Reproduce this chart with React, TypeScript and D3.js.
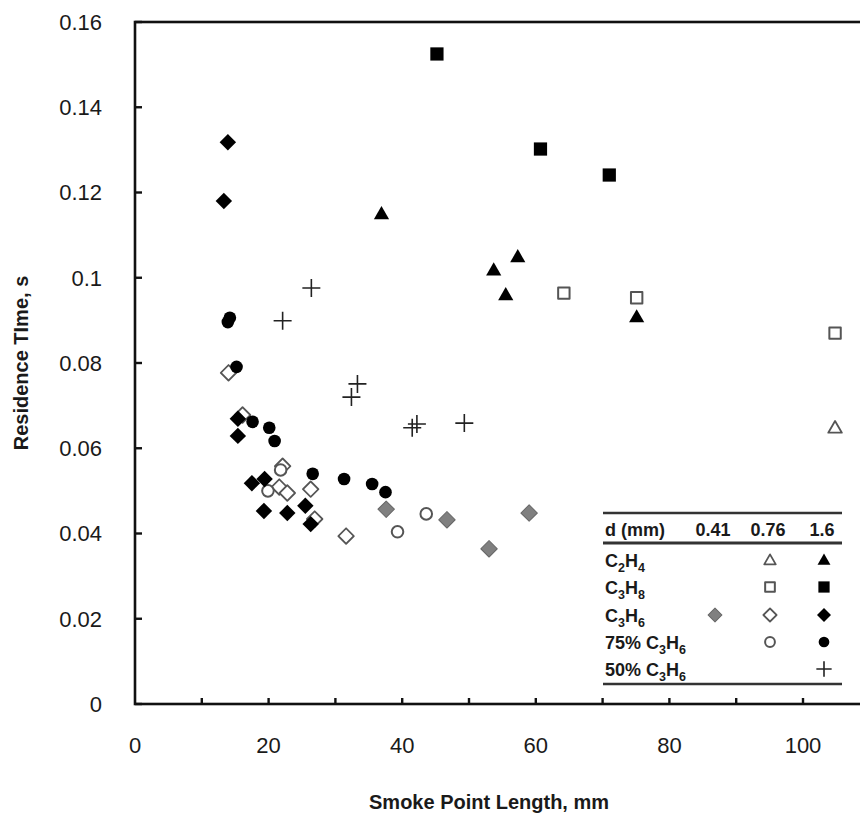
import * as d3 from "d3";

// tick values
const xTicks = [0, 20, 40, 60, 80, 100];
const xMinor = [10, 20, 30, 40, 50, 60, 70, 80, 90, 100];
const yTicks = [0, 0.02, 0.04, 0.06, 0.08, 0.1, 0.12, 0.14, 0.16];

// [smoke point length mm, residence time s]
const c2h4_076 = [[104.8, 0.0648]];
const c2h4_16 = [[36.9, 0.115], [53.7, 0.1018], [55.5, 0.096], [57.3, 0.1049], [75.1, 0.0908]];
const c3h8_076 = [[64.2, 0.0964], [75.1, 0.0953], [104.8, 0.087]];
const c3h8_16 = [[45.2, 0.1525], [60.7, 0.1302], [71.0, 0.1241]];
const c3h6_041 = [[37.6, 0.0457], [46.7, 0.0432], [53.0, 0.0364], [59.0, 0.0448]];
const c3h6_076 = [[14.0, 0.0777], [16.1, 0.0678], [22.1, 0.0558], [21.6, 0.0509], [22.8, 0.0495], [26.3, 0.0504], [26.9, 0.0434], [31.6, 0.0394]];
const c3h6_16 = [[13.9, 0.1318], [13.3, 0.118], [15.4, 0.0669], [15.4, 0.0629], [17.5, 0.0518], [19.4, 0.0528], [19.3, 0.0453], [22.8, 0.0448], [25.5, 0.0465], [26.3, 0.0422]];
const c3h6_75_076 = [[21.8, 0.0549], [19.9, 0.05], [39.3, 0.0404], [43.6, 0.0446]];
const c3h6_75_16 = [[13.9, 0.0896], [14.2, 0.0906], [15.2, 0.0791], [17.6, 0.0662], [20.1, 0.0648], [20.9, 0.0617], [26.6, 0.054], [31.3, 0.0528], [35.5, 0.0516], [37.5, 0.0497]];
const c3h6_50_16 = [[26.4, 0.0976], [22.1, 0.0899], [33.3, 0.0751], [32.4, 0.072], [41.5, 0.0648], [42.2, 0.0657], [49.3, 0.0659]];

const FONT = "'Liberation Sans', Arial, sans-serif";
const INK = "#1a1a1a";
const OPEN = "#555";

type Style = { kind: string; fill: string; stroke: string; sw: number; size: number };

const styles: Record<string, Style> = {
  triOpen: { kind: "tri", fill: "#fff", stroke: OPEN, sw: 1.8, size: 80 },
  triFill: { kind: "tri", fill: "#000", stroke: "none", sw: 0, size: 100 },
  sqOpen: { kind: "sq", fill: "#fff", stroke: OPEN, sw: 2, size: 130 },
  sqFill: { kind: "sq", fill: "#000", stroke: "none", sw: 0, size: 175 },
  diaGray: { kind: "dia", fill: "#808080", stroke: "#666", sw: 1, size: 135 },
  diaOpen: { kind: "dia", fill: "#fff", stroke: OPEN, sw: 1.8, size: 120 },
  diaFill: { kind: "dia", fill: "#000", stroke: "none", sw: 0, size: 135 },
  cirOpen: { kind: "cir", fill: "#fff", stroke: OPEN, sw: 2, size: 105 },
  cirFill: { kind: "cir", fill: "#000", stroke: "none", sw: 0, size: 125 },
  plus: { kind: "plus", fill: "none", stroke: "#222", sw: 1.6, size: 9 },
};

// draw order: grey, open, filled, plus
const series: [number[][], string][] = [
  [c3h6_041, "diaGray"],
  [c2h4_076, "triOpen"],
  [c3h8_076, "sqOpen"],
  [c3h6_076, "diaOpen"],
  [c3h6_75_076, "cirOpen"],
  [c2h4_16, "triFill"],
  [c3h8_16, "sqFill"],
  [c3h6_16, "diaFill"],
  [c3h6_75_16, "cirFill"],
  [c3h6_50_16, "plus"],
];

const Marker = ({ x, y, st, scale = 1 }: { x: number; y: number; st: Style; scale?: number }) => {
  if (st.kind === "plus") {
    const r = st.size * scale;
    return (
      <path d={`M${x - r},${y}H${x + r}M${x},${y - r}V${y + r}`} stroke={st.stroke} strokeWidth={st.sw} fill="none" />
    );
  }
  const type = st.kind === "tri" ? d3.symbolTriangle : st.kind === "cir" ? d3.symbolCircle : d3.symbolSquare;
  const d = d3.symbol().type(type).size(st.size * scale * scale)() as string;
  const rot = st.kind === "dia" ? " rotate(45)" : "";
  const dy = st.kind === "tri" ? 1 : 0;
  return (
    <path
      d={d}
      transform={`translate(${x},${y + dy})${rot}`}
      fill={st.fill}
      stroke={st.stroke}
      strokeWidth={st.sw}
      strokeLinejoin="round"
    />
  );
};

const Formula = ({ x, y, pre, c, h }: { x: number; y: number; pre?: string; c: string; h: string }) => (
  <text x={x} y={y} fontFamily={FONT} fontWeight="bold" fontSize={18} fill={INK}>
    {pre}C<tspan fontSize={12.5} dy={5}>{c}</tspan>
    <tspan dy={-5}>H</tspan>
    <tspan fontSize={12.5} dy={5}>{h}</tspan>
  </text>
);

const App = () => {
  const width = 860;
  const height = 817;
  const left = 135;
  const top = 22;
  const bottom = 704;

  const x = d3.scaleLinear().domain([0, 110]).range([left, left + 6.68 * 110]);
  const y = d3.scaleLinear().domain([0, 0.16]).range([bottom, top]);
  const right = x(110);

  // legend layout
  const lgL = 603;
  const lgR = 842;
  const colX = [715, 770, 824];
  const rowY = [560, 587, 615, 642, 669];

  return (
    <svg width={width} height={height} style={{ position: "absolute", left: 0, top: 0, background: "#fff" }}>
      <rect width={width} height={height} fill="#fff" />

      {/* frame */}
      <rect x={left} y={top} width={right - left} height={bottom - top} fill="none" stroke="#111" strokeWidth={2.6} />

      {/* x ticks */}
      {xMinor.map((t) => (
        <line key={t} x1={x(t)} x2={x(t)} y1={bottom} y2={bottom - 6} stroke="#111" strokeWidth={2.4} />
      ))}
      {xTicks.map((t) => (
        <text key={t} x={x(t)} y={bottom + 49} textAnchor="middle" fontFamily={FONT} fontSize={22} fill={INK}>
          {t}
        </text>
      ))}

      {/* y ticks */}
      {yTicks.map((t) => (
        <g key={t}>
          <line x1={left} x2={left + 7} y1={y(t)} y2={y(t)} stroke="#111" strokeWidth={2.4} />
          <text x={left - 33} y={y(t)} dy="0.36em" textAnchor="end" fontFamily={FONT} fontSize={22} fill={INK}>
            {t === 0 ? "0" : d3.format("")(+t.toFixed(2))}
          </text>
        </g>
      ))}

      {/* axis titles */}
      <text x={x(53)} y={809} textAnchor="middle" fontFamily={FONT} fontWeight="bold" fontSize={20} fill={INK}>
        Smoke Point Length, mm
      </text>
      <text
        transform={`translate(28,${(top + bottom) / 2}) rotate(-90)`}
        textAnchor="middle"
        fontFamily={FONT}
        fontWeight="bold"
        fontSize={20}
        fill={INK}
      >
        Residence TIme, s
      </text>

      {/* data */}
      {series.map(([pts, key], i) => (
        <g key={i}>
          {pts.map((p, j) => (
            <Marker key={j} x={x(p[0])} y={y(p[1])} st={styles[key]} />
          ))}
        </g>
      ))}

      {/* legend table */}
      <g>
        <rect x={lgL} y={505} width={lgR - lgL} height={182} fill="#fff" />
        <line x1={lgL} x2={lgR} y1={513} y2={513} stroke="#333" strokeWidth={2.5} />
        <line x1={lgL} x2={lgR} y1={543} y2={543} stroke="#333" strokeWidth={3} />
        <line x1={lgL} x2={lgR} y1={684} y2={684} stroke="#333" strokeWidth={2.5} />
        <text x={605} y={536} fontFamily={FONT} fontWeight="bold" fontSize={18} fill={INK}>
          d (mm)
        </text>
        {["0.41", "0.76", "1.6"].map((s, i) => (
          <text key={s} x={colX[i] - 2} y={536} textAnchor="middle" fontFamily={FONT} fontWeight="bold" fontSize={18} fill={INK}>
            {s}
          </text>
        ))}
        <Formula x={605} y={rowY[0] + 7} c="2" h="4" />
        <Formula x={605} y={rowY[1] + 7} c="3" h="8" />
        <Formula x={605} y={rowY[2] + 7} c="3" h="6" />
        <Formula x={605} y={rowY[3] + 7} pre="75% " c="3" h="6" />
        <Formula x={605} y={rowY[4] + 7} pre="50% " c="3" h="6" />

        <Marker x={colX[1]} y={rowY[0]} st={styles.triOpen} scale={0.85} />
        <Marker x={colX[2]} y={rowY[0]} st={styles.triFill} scale={0.85} />
        <Marker x={colX[1]} y={rowY[1]} st={styles.sqOpen} scale={0.85} />
        <Marker x={colX[2]} y={rowY[1]} st={styles.sqFill} scale={0.85} />
        <Marker x={colX[0]} y={rowY[2]} st={styles.diaGray} scale={0.85} />
        <Marker x={colX[1]} y={rowY[2]} st={styles.diaOpen} scale={0.85} />
        <Marker x={colX[2]} y={rowY[2]} st={styles.diaFill} scale={0.85} />
        <Marker x={colX[1]} y={rowY[3]} st={styles.cirOpen} scale={0.85} />
        <Marker x={colX[2]} y={rowY[3]} st={styles.cirFill} scale={0.85} />
        <Marker x={colX[2]} y={rowY[4]} st={styles.plus} scale={0.85} />
      </g>
    </svg>
  );
};

export default App;
